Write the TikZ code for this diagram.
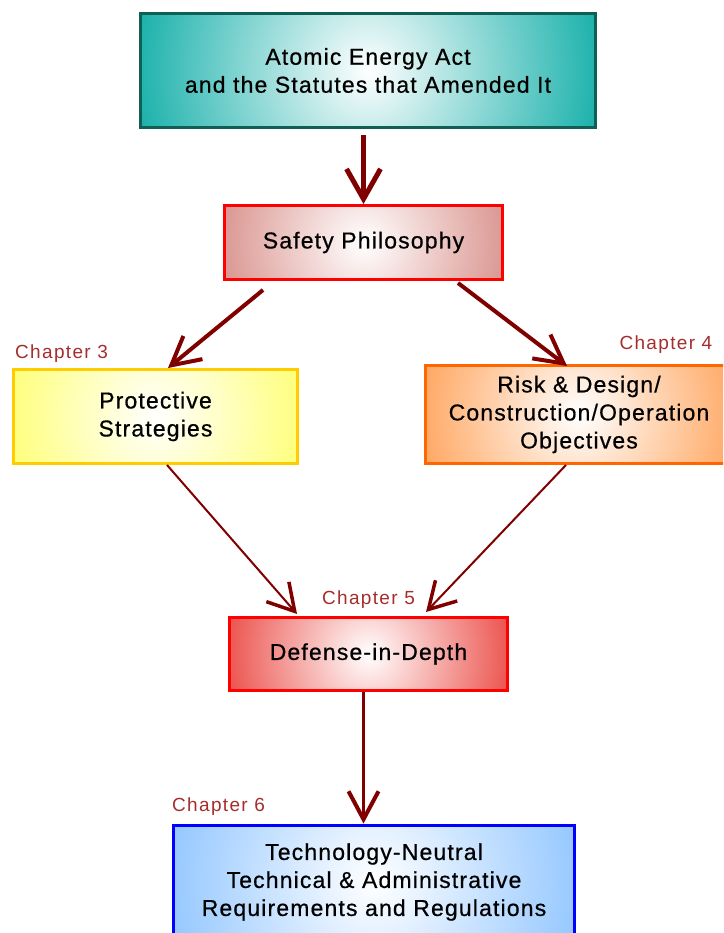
\documentclass[tikz,border=0pt]{standalone}
\usepackage{fontspec}
\setmainfont{Liberation Sans}
\newfontfamily\boxfont[LetterSpace=5,FakeBold=0.6]{Liberation Sans}
\newfontfamily\chapfont[LetterSpace=7]{Liberation Sans}
\usetikzlibrary{arrows.meta,positioning}

\definecolor{arrowred}{RGB}{128,0,0}
\definecolor{chapred}{RGB}{165,45,45}
\definecolor{tealfill}{RGB}{12,172,166}
\definecolor{tealline}{RGB}{15,95,85}
\definecolor{rosefill}{RGB}{216,142,136}
\definecolor{yellowfill}{RGB}{255,255,110}
\definecolor{yellowline}{RGB}{255,204,0}
\definecolor{orangefill}{RGB}{255,160,85}
\definecolor{orangeline}{RGB}{255,102,0}
\definecolor{redfill}{RGB}{234,70,64}
\definecolor{bluefill}{RGB}{140,195,255}

\tikzset{
  box/.style={draw, line width=3pt, align=center, text=black,
    font=\boxfont\fontsize{23}{28}\selectfont},
  glow/.style 2 args={path picture={
    \shade[inner color=white, outer color=#1]
      (path picture bounding box.center) circle (#2);}},
  chapter/.style={text=chapred, inner sep=0pt, font=\chapfont\fontsize{19}{22}\selectfont},
  link/.style={draw=arrowred},
  bigtip/.style={-{Straight Barb[length=30pt,width=34pt,line width=5pt]}},
  midtip/.style={-{Straight Barb[length=28pt,width=30pt,line width=4pt]}},
  thintip/.style={-{Straight Barb[length=26pt,width=30pt,line width=3.5pt]}}
}

\begin{document}
\begin{tikzpicture}[x=1pt,y=-1pt]
        % Page
        \useasboundingbox (0,0) rectangle (723,933);
        \clip (0,0) rectangle (723,933);

        % Boxes
        \node[box, draw=tealline, glow={tealfill}{250pt}, minimum width=455pt, minimum height=114pt]
            (act) at (368,70.5) {Atomic Energy Act\\and the Statutes that Amended It};
        \node[box, draw=red, glow={rosefill}{155pt}, minimum width=278pt, minimum height=74pt]
            (safety) at (363.5,242.5) {Safety Philosophy};
        \node[box, draw=yellowline, glow={yellowfill}{165pt}, minimum width=284pt, minimum height=94pt]
            (protective) at (155.5,416.5) {Protective\\Strategies};
        \node[box, draw=orangeline, glow={orangefill}{175pt}, minimum width=308pt, minimum height=98pt]
            (risk) at (579,414.5) {Risk \& Design/\\Construction/Operation\\Objectives};
        \node[box, draw=red, glow={redfill}{155pt}, minimum width=278pt, minimum height=73pt]
            (defense) at (368.5,654) {Defense-in-Depth};
        \node[box, draw=blue, glow={bluefill}{225pt}, minimum width=401pt, minimum height=114pt]
            (tech) at (374,882) {Technology-Neutral\\Technical \& Administrative\\Requirements and Regulations};

        % Chapter labels
        \node[chapter, above right=5pt and 3pt of protective.north west, anchor=south west] (ch3) {Chapter 3};
        \node[chapter, above left=10pt and 22pt of risk.north east, anchor=south east] (ch4) {Chapter 4};
        \node[chapter, above=7pt of defense.north] (ch5) {Chapter 5};
        \node[chapter, above right=8pt and 0pt of tech.north west, anchor=south west] (ch6) {Chapter 6};

        % Arrows
        \draw[link, bigtip, line width=5pt, shorten <=6pt] (safety.north |- act.south) -- (safety.north);
        \draw[link, midtip, line width=4pt] ([xshift=40pt,yshift=-9pt]safety.south west) -- ([xshift=12.5pt]protective.north);
        \draw[link, midtip, line width=4pt] ([xshift=-46pt,yshift=-2pt]safety.south east) -- ([xshift=-12pt,yshift=-2pt]risk.north);
        \draw[link, thintip, line width=2pt] ([xshift=11.5pt]protective.south) -- ([xshift=69pt,yshift=2pt]defense.north west);
        \draw[link, thintip, line width=2pt] ([xshift=-13pt]risk.south) -- ([xshift=-83pt,yshift=4pt]defense.north east);
        \draw[link, midtip, line width=3pt] ([xshift=-5pt]defense.south) -- ([xshift=-5pt]defense.south |- tech.north);
\end{tikzpicture}
\end{document}
